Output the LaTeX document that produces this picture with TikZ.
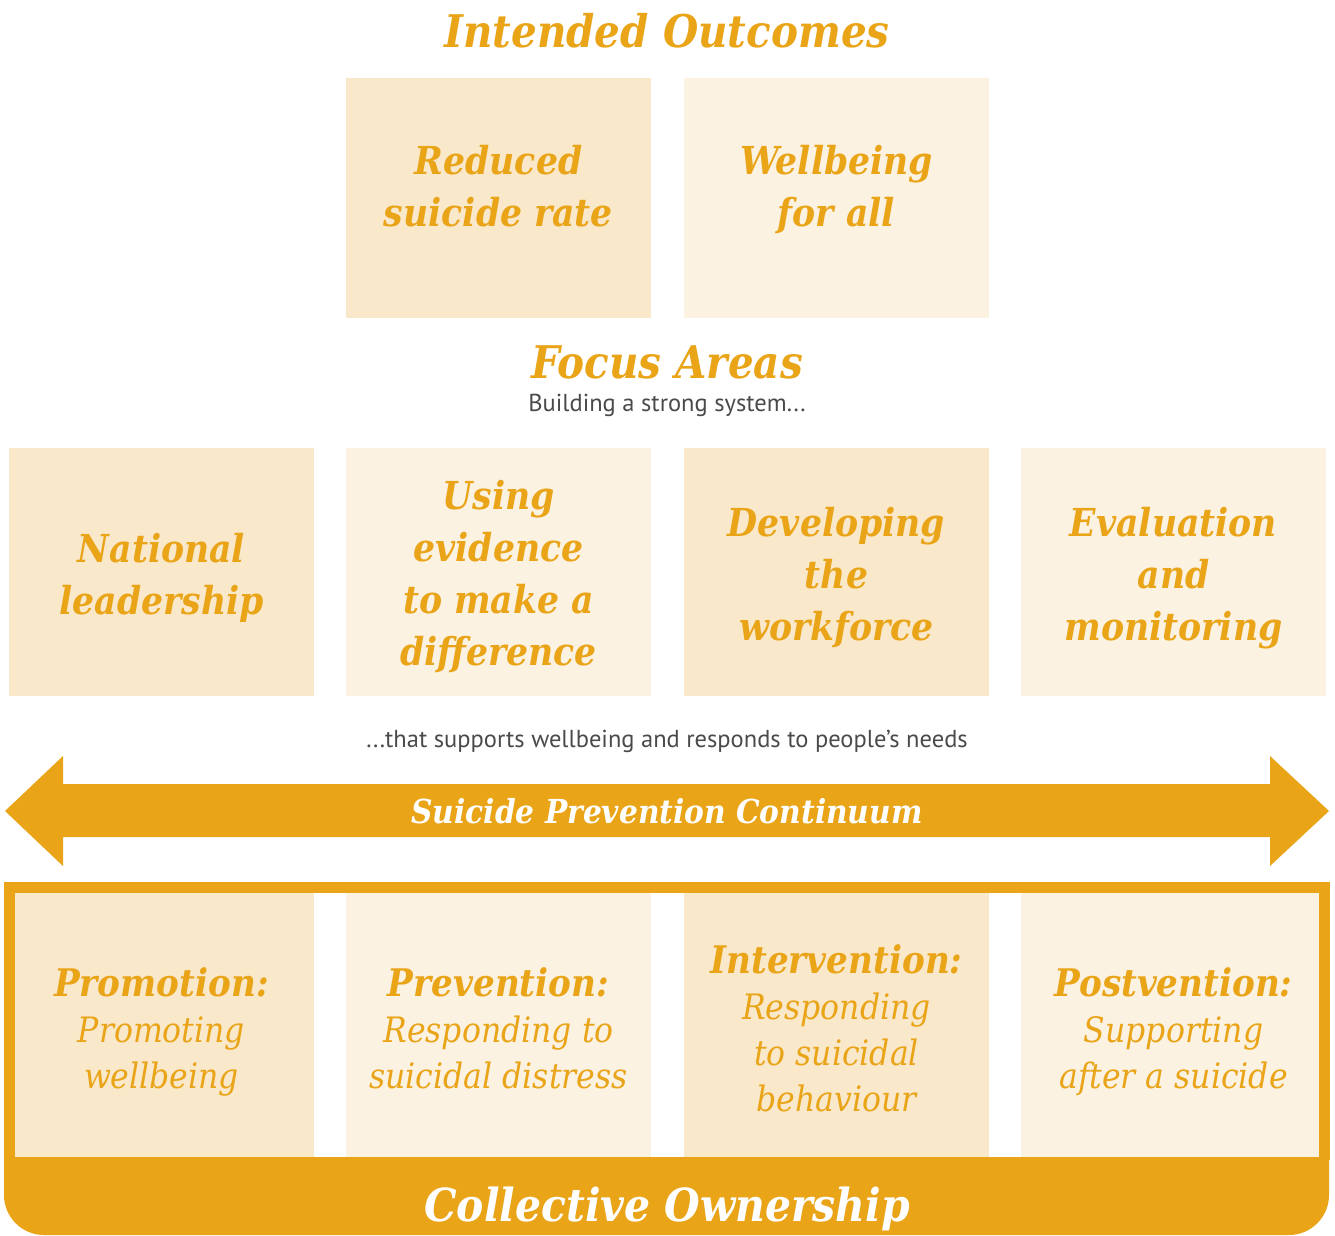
\documentclass[tikz,border=0pt]{standalone}
\usepackage{fontspec}
\newfontfamily\slab{DejaVu Serif Condensed}
\newfontfamily\din{PT Sans}
\definecolor{org}{HTML}{E9A418}
\definecolor{dk}{HTML}{FAE8CB}
\definecolor{lt}{HTML}{FCF2E2}
\definecolor{gr}{HTML}{4A4A4A}
\tikzset{
  box/.style={draw=none, inner sep=0pt, minimum width=305pt},
  bigtitle/.style={font=\slab\bfseries\itshape\fontsize{45}{50}\selectfont, text=org},
  boxtxt/.style={font=\slab\bfseries\itshape\fontsize{38.5}{52}\selectfont, text=org, align=center},
  ctxt/.style={font=\slab\itshape\fontsize{35}{46}\selectfont, text=org, align=center},
  subtxt/.style={font=\din\fontsize{24.5}{28}\selectfont, text=gr},
  whitetxt/.style={font=\slab\bfseries\itshape\fontsize{33}{36}\selectfont, text=white}
}
\begin{document}
\begin{tikzpicture}[x=1pt,y=-1pt]
\useasboundingbox (0,0) rectangle (1335,1236);
% titles
\node[bigtitle] (t1) at (667,31) {Intended Outcomes};
% outcome boxes
\node[box, fill=dk, minimum height=240pt] (o1) at (498.5,198) {};
\node[box, fill=lt, minimum height=240pt] (o2) at (836.5,198) {};
\node[boxtxt] (o1t) at (498.5,186.5) {Reduced\\suicide rate};
\node[boxtxt] (o2t) at (836.5,190) {Wellbeing\\for all};
% focus areas
\node[bigtitle] (t2) at (667,362) {Focus Areas};
\node[subtxt] (s1) at (667,405) {Building a strong system...};
\node[box, fill=dk, minimum height=248pt] (f1) at (161.5,572) {};
\node[box, fill=lt, minimum height=248pt] (f2) at (498.5,572) {};
\node[box, fill=dk, minimum height=248pt] (f3) at (836.5,572) {};
\node[box, fill=lt, minimum height=248pt] (f4) at (1173.5,572) {};
\node[boxtxt] (f1t) at (161.5,578) {National\\leadership};
\node[boxtxt] (f2t) at (498.5,577) {Using\\evidence\\to make a\\difference};
\node[boxtxt] (f3t) at (836.5,578) {Developing\\the\\workforce};
\node[boxtxt] (f4t) at (1173.5,578) {Evaluation\\and\\monitoring};
\node[subtxt] (s2) at (667,741) {...that supports wellbeing and responds to people’s needs};
% arrow
\fill[org] (5,811) -- (63,756) -- (63,784) -- (1270,784) -- (1270,756) -- (1329,811)
  -- (1270,866) -- (1270,837) -- (63,837) -- (63,866) -- cycle;
\node[whitetxt] (arr) at (667,811) {Suicide Prevention Continuum};
% frame
\draw[org, line width=11pt] (9.5,1160) -- (9.5,887.5) -- (1324,887.5) -- (1324,1160);
\fill[org] (4,1157) [rounded corners=40pt] -- (4,1235) -- (1329,1235) [sharp corners] -- (1329,1157) -- cycle;
% continuum boxes
\node[box, fill=dk, minimum width=299pt, minimum height=264pt] (c1) at (164.5,1025) {};
\node[box, fill=lt, minimum height=264pt] (c2) at (498.5,1025) {};
\node[box, fill=dk, minimum height=264pt] (c3) at (836.5,1025) {};
\node[box, fill=lt, minimum width=298pt, minimum height=264pt] (c4) at (1170,1025) {};
\node[ctxt] (c1t) at (161.5,1032) {{\bfseries\fontsize{38}{46}\selectfont Promotion:}\\Promoting\\wellbeing};
\node[ctxt] (c2t) at (498.5,1028) {{\bfseries\fontsize{38}{46}\selectfont Prevention:}\\Responding to\\suicidal distress};
\node[ctxt] (c3t) at (836.5,1028) {{\bfseries\fontsize{38}{46}\selectfont Intervention:}\\Responding\\to suicidal\\behaviour};
\node[ctxt] (c4t) at (1173.5,1032) {{\bfseries\fontsize{38}{46}\selectfont Postvention:}\\Supporting\\after a suicide};
\node[whitetxt, font=\slab\bfseries\itshape\fontsize{45.5}{48}\selectfont] (co) at (667,1209) {Collective Ownership};
\end{tikzpicture}
\end{document}
